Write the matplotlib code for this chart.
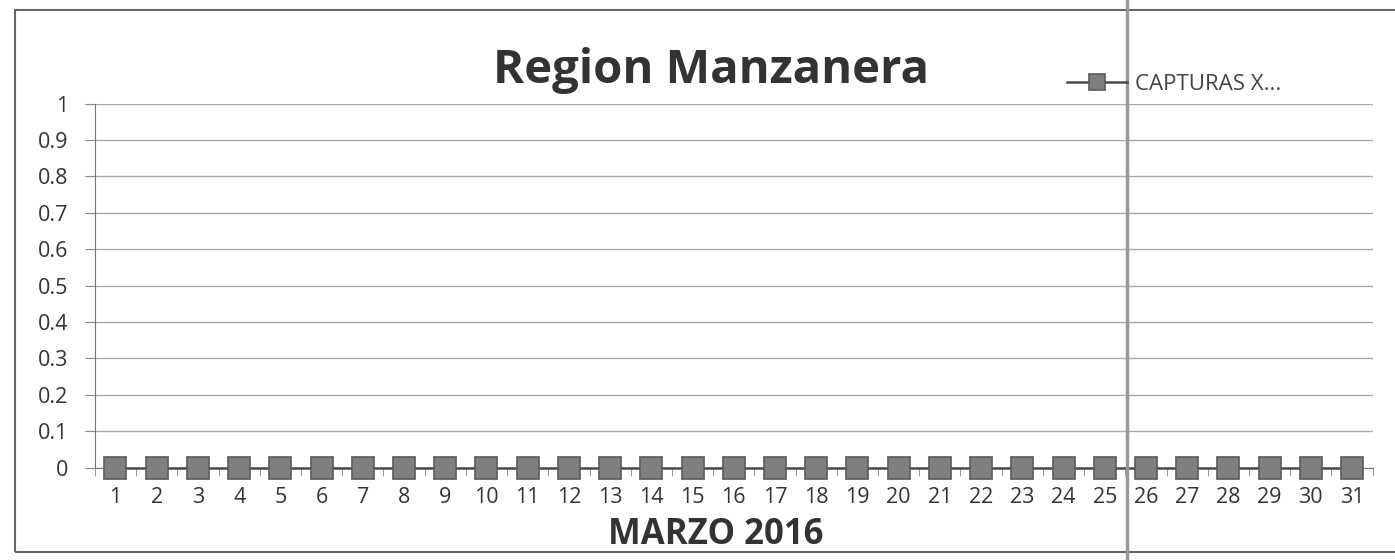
import numpy as np
import matplotlib.pyplot as plt
from matplotlib.patches import Rectangle

# Datos del grafico: capturas diarias en marzo 2016
dias = list(range(1, 32))
capturas = [0] * 31
y_ticks = [0, 0.1, 0.2, 0.3, 0.4, 0.5, 0.6, 0.7, 0.8, 0.9, 1]
y_labels = ['0', '0.1', '0.2', '0.3', '0.4', '0.5', '0.6', '0.7', '0.8', '0.9', '1']

plt.rcParams['font.family'] = ['Open Sans', 'DejaVu Sans']

fig = plt.figure(figsize=(13.95, 5.6), dpi=100)
ax = fig.add_axes([0.068, 0.165, 0.916, 0.65])

# Linea con marcadores cuadrados
ax.plot(dias, capturas, color='#4a4a4a', lw=1.8, marker='s', markersize=16,
        markerfacecolor='#7f7f7f', markeredgecolor='#5a5a5a', markeredgewidth=1.2,
        label='CAPTURAS X...', clip_on=False, zorder=3)

ax.set_xlim(0.5, 31.5)
ax.set_ylim(0, 1)
ax.set_yticks(y_ticks)
ax.set_yticklabels(y_labels)
ax.set_xticks(dias)
ax.set_xticks(np.arange(0.5, 32, 1), minor=True)
ax.tick_params(axis='x', which='major', length=0, labelsize=15.5, pad=14, colors='#333333')
ax.tick_params(axis='x', which='minor', length=6, color='#888888', direction='out')
ax.tick_params(axis='y', length=7, labelsize=15.5, pad=12, color='#888888', labelcolor='#333333')

ax.grid(axis='y', color='#aaaaaa', lw=1)
ax.set_axisbelow(True)
for s in ['top', 'right']:
    ax.spines[s].set_visible(False)
ax.spines['left'].set_color('#777777')
ax.spines['bottom'].set_color('#777777')

ax.set_xlabel('MARZO 2016', fontsize=25, fontweight='bold', color='#333333')
ax.xaxis.set_label_coords(0.486, -0.135)
fig.text(0.51, 0.875, 'Region Manzanera', ha='center', va='center',
         fontsize=34, fontweight='bold', color='#333333')

fig.legend(loc='center left', bbox_to_anchor=(0.765, 0.85), frameon=False,
           fontsize=16, handlelength=2.7, handletextpad=0.35, markerscale=0.75,
           borderpad=0, borderaxespad=0, labelcolor='#444444')

# Marco del grafico
fig.patches.append(Rectangle((0.011, 0.014), 1.2, 0.968, transform=fig.transFigure,
                             fill=False, edgecolor='#666666', lw=1.5))
# Marca vertical del escaneo
fig.add_artist(plt.Line2D([0.808, 0.808], [0, 1], transform=fig.transFigure,
                          color='#999999', lw=2.5))

fig.savefig('out.png', dpi=100)
